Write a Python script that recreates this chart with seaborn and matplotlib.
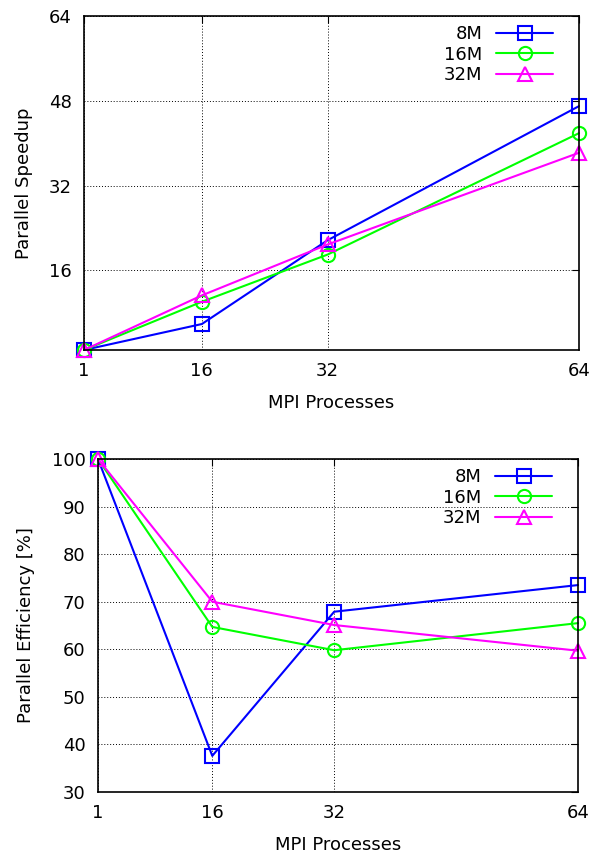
import matplotlib
matplotlib.use("Agg")
import matplotlib.pyplot as plt
import seaborn as sns
import pandas as pd
from matplotlib.lines import Line2D

procs = [1, 16, 32, 64]
series = ["8M", "16M", "32M"]
speedup_8m = [1, 5.9, 21.7, 47.0]
speedup_16m = [1, 10.1, 19.0, 41.9]
speedup_32m = [1, 11.3, 20.9, 38.2]
eff_8m = [100, 37.6, 67.9, 73.5]
eff_16m = [100, 64.7, 59.8, 65.5]
eff_32m = [100, 70.0, 65.1, 59.7]
x_ticks = [1, 16, 32, 64]
speed_ticks = [16, 32, 48, 64]
eff_ticks = [30, 40, 50, 60, 70, 80, 90, 100]

colors = {"8M": "#0000ff", "16M": "#00ff00", "32M": "#ff00ff"}
markers = {"8M": "s", "16M": "o", "32M": "^"}

sns.set_theme(style="white")
plt.rcParams['font.family'] = ['DejaVu Sans']
plt.rcParams['font.size'] = 13
plt.rcParams['text.color'] = 'black'
plt.rcParams['axes.labelcolor'] = 'black'
plt.rcParams['xtick.color'] = 'black'
plt.rcParams['ytick.color'] = 'black'

speed_df = pd.DataFrame({
    "procs": procs * 3,
    "value": speedup_8m + speedup_16m + speedup_32m,
    "series": sum([[s] * 4 for s in series], []),
})
eff_df = pd.DataFrame({
    "procs": procs * 3,
    "value": eff_8m + eff_16m + eff_32m,
    "series": sum([[s] * 4 for s in series], []),
})

fig = plt.figure(figsize=(6.07, 8.59), dpi=100)
W, H = 607, 859
ax1 = fig.add_axes([84 / W, 1 - 350 / H, (579 - 84) / W, (350 - 16) / H])
ax2 = fig.add_axes([98 / W, 1 - 792 / H, (578 - 98) / W, (792 - 459) / H])


def draw(ax, df, ylim, yticks, ylabel, ylabelpad, leg_anchor):
    for s in series:
        sub = df[df["series"] == s]
        sns.lineplot(data=sub, x="procs", y="value", ax=ax, color=colors[s],
                     marker=markers[s], markersize=9.5, markerfacecolor="none",
                     markeredgecolor=colors[s], markeredgewidth=1.5,
                     linewidth=1.5, clip_on=False, legend=False)
    ax.set_xlim(1, 64)
    ax.set_ylim(*ylim)
    ax.set_xticks(x_ticks)
    ax.set_yticks(yticks)
    ax.tick_params(direction="in", top=True, right=True, length=5, width=0.8,
                   labelsize=13, colors="black", pad=9)
    ax.grid(True, linestyle=(0, (1, 2)), color="black", linewidth=0.7)
    for sp in ax.spines.values():
        sp.set_color("black")
        sp.set_linewidth(1.2)
    ax.set_xlabel("MPI Processes", fontsize=13, labelpad=10, color="black")
    ax.set_ylabel(ylabel, fontsize=13, labelpad=ylabelpad, color="black")
    handles = [Line2D([0], [0], color=colors[s], marker=markers[s], markersize=9.5,
                      markerfacecolor="none", markeredgecolor=colors[s],
                      markeredgewidth=1.5, linewidth=1.5) for s in series]
    leg = ax.legend(handles, series, loc="upper right", bbox_to_anchor=leg_anchor,
                    frameon=False, markerfirst=False,
                    handlelength=3.15, fontsize=13, labelspacing=0.14,
                    borderaxespad=0, borderpad=0, handletextpad=0.75)
    for t in leg.get_texts():
        t.set_color("black")


draw(ax1, speed_df, (1, 64), speed_ticks, "Parallel Speedup", 11,
     ((553 - 84) / 495, 1 - 9 / 334))
draw(ax2, eff_df, (30, 100), eff_ticks, "Parallel Efficiency [%]", 12,
     ((552 - 98) / 480, 1 - 9 / 333))

fig.savefig("out.png", dpi=100)
